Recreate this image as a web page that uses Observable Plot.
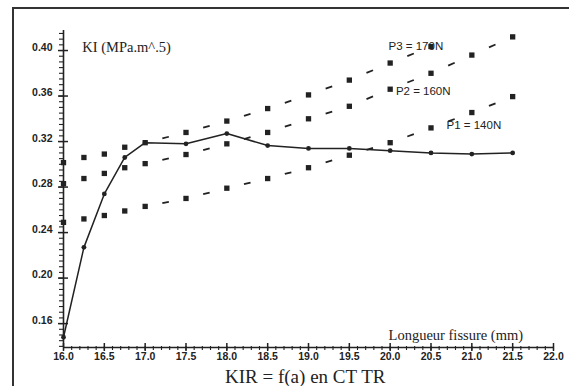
<!DOCTYPE html>
<html><head><meta charset="utf-8">
<script src="https://cdn.jsdelivr.net/npm/d3@7"></script>
<script src="https://cdn.jsdelivr.net/npm/@observablehq/plot@0.6"></script>
<style>
html,body{margin:0;padding:0;background:#fff;width:569px;height:386px;overflow:hidden;}
#wrap{position:relative;width:569px;height:386px;}
#frame{position:absolute;left:12px;top:7px;width:600px;height:400px;border-top:2px solid #333;border-left:2px solid #333;}
#chart{position:absolute;left:0;top:0;}
</style></head><body>
<div id="wrap"><div id="frame"></div><div id="chart"></div></div>
<script>
// Crack length (mm)
const crackLength = [16.0,16.25,16.5,16.75,17.0,17.5,18.0,18.5,19.0,19.5,20.0,20.5,21.0,21.5];
// KIR curve (solid)
const kir = [0.148,0.227,0.274,0.306,0.319,0.318,0.327,0.3165,0.314,0.314,0.312,0.310,0.309,0.310];
// P3 = 170N
const p3Length = [16.0,16.25,16.5,16.75,17.0,17.5,18.0,18.5,19.0,19.5,20.0,20.5];
const p3 = [0.3015,0.306,0.309,0.315,0.319,0.328,0.338,0.349,0.361,0.374,0.389,0.4035];
// P2 = 160N
const p2 = [0.283,0.2875,0.292,0.297,0.3006,0.3086,0.318,0.328,0.340,0.351,0.366,0.380,0.396,0.412];
// P1 = 140N
const p1 = [0.249,0.252,0.255,0.259,0.263,0.270,0.279,0.2875,0.297,0.308,0.319,0.332,0.3455,0.3595];

const xMajor = [16.0,16.5,17.0,17.5,18.0,18.5,19.0,19.5,20.0,20.5,21.0,21.5,22.0];
const yMajor = [0.16,0.20,0.24,0.28,0.32,0.36,0.40];
const xDomain = [16.0, 22.0];
const yDomain = [0.139, 0.4176];

const xMinor = d3.range(160, 221).map(d => d / 10);
const yMinor = d3.range(28, 84).map(d => d / 200);

const mainData = crackLength.map((x, i) => ({x, y: kir[i]}));
const pts = [];
p3Length.forEach((x, i) => pts.push({x, y: p3[i], s: "P3"}));
crackLength.forEach((x, i) => pts.push({x, y: p2[i], s: "P2"}));
crackLength.forEach((x, i) => pts.push({x, y: p1[i], s: "P1"}));

// short dashes midway between squares spaced 0.5 mm apart
const dashes = [];
function addDashes(xs, ys) {
  for (let i = 0; i < xs.length - 1; i++) {
    const dx = xs[i + 1] - xs[i];
    if (Math.abs(dx - 0.5) < 1e-6) {
      const mx = (xs[i] + xs[i + 1]) / 2, my = (ys[i] + ys[i + 1]) / 2;
      const slope = (ys[i + 1] - ys[i]) / dx, h = 0.04;
      dashes.push({x1: mx - h, y1: my - slope * h, x2: mx + h, y2: my + slope * h});
    }
  }
}
addDashes(p3Length, p3);
addDashes(crackLength, p2);
addDashes(crackLength, p1);

const ink = "#222";
const tickFont = "Liberation Sans, Arial, sans-serif";
const serif = "Liberation Serif, Times New Roman, serif";

const chart = Plot.plot({
  width: 569,
  height: 386,
  marginLeft: 63,
  marginRight: 16,
  marginTop: 30,
  marginBottom: 39,
  style: {fontFamily: tickFont, background: "transparent", color: ink},
  x: {domain: xDomain, label: null},
  y: {domain: yDomain, label: null},
  marks: [
    // axis lines
    Plot.ruleX([xDomain[0]], {stroke: ink, strokeWidth: 1.6}),
    Plot.ruleY([yDomain[0]], {stroke: ink, strokeWidth: 1.6}),
    // y ticks
    Plot.axisY({ticks: yMinor, tickSize: 5, dx: 1, fill: "none", stroke: ink, strokeWidth: 1.1, label: null}),
    Plot.axisY({ticks: yMajor, tickSize: 10, dx: 5, fill: "none", stroke: ink, strokeWidth: 1.5, label: null}),
    Plot.axisY({ticks: yMajor, tickSize: 0, tickPadding: 11, dy: -3, tickFormat: d3.format(".2f"), fontSize: 10.5, fontWeight: "bold", fill: ink, label: null}),
    // x ticks
    Plot.axisX({ticks: xMinor, tickSize: 4, dy: -1, fill: "none", stroke: ink, strokeWidth: 1.1, label: null}),
    Plot.axisX({ticks: xMajor, tickSize: 8, dy: -4, fill: "none", stroke: ink, strokeWidth: 1.5, label: null}),
    Plot.axisX({ticks: xMajor, tickSize: 0, tickPadding: 5, tickFormat: d3.format(".1f"), fontSize: 10.5, fontWeight: "bold", fill: ink, label: null}),
    // dashed links
    Plot.link(dashes, {x1: "x1", y1: "y1", x2: "x2", y2: "y2", stroke: ink, strokeWidth: 1.8}),
    // main curve
    Plot.line(mainData, {x: "x", y: "y", stroke: ink, strokeWidth: 1.5}),
    Plot.dot(mainData, {x: "x", y: "y", r: 2.4, fill: ink, stroke: "none"}),
    // annotations
    Plot.text(["KI (MPa.m^.5)"], {x: 16.23, y: 0.4026, text: d => d, textAnchor: "start", fontFamily: serif, fontSize: 14.5, fill: ink}),
    Plot.text(["P3 = 170N"], {x: 19.98, y: 0.4035, text: d => d, textAnchor: "start", fontSize: 11.5, fill: ink}),
    Plot.text(["P2 = 160N"], {x: 20.07, y: 0.364, text: d => d, textAnchor: "start", fontSize: 11.5, fill: ink}),
    Plot.text(["P1 = 140N"], {x: 20.69, y: 0.334, text: d => d, textAnchor: "start", fontSize: 11.5, fill: ink}),
    Plot.text(["Longueur fissure (mm)"], {x: 19.98, y: 0.1495, text: d => d, textAnchor: "start", fontFamily: serif, fontSize: 14.5, fill: ink}),
    Plot.text(["KIR = f(a) en CT TR"], {x: 18.96, y: yDomain[0], dy: 29, text: d => d, fontFamily: serif, fontSize: 19, fill: ink}),
    // squares
    Plot.dot(pts, {x: "x", y: "y", symbol: "square", r: 3, fill: ink, stroke: "none"})
  ]
});
document.getElementById("chart").appendChild(chart);
</script>
</body></html>
